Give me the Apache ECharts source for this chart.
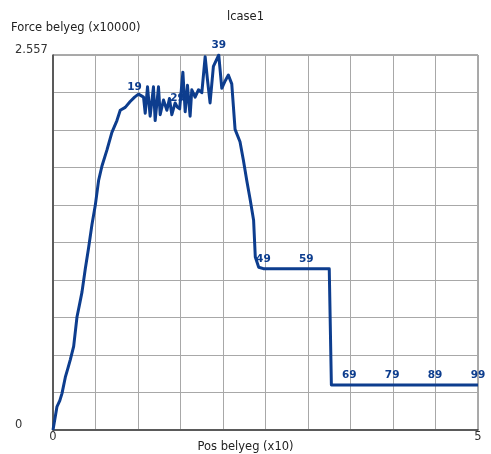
<!DOCTYPE html>
<html>
<head>
<meta charset="utf-8">
<script src="https://cdn.jsdelivr.net/npm/echarts@6/dist/echarts.min.js"></script>
<style>
html, body { margin: 0; padding: 0; background: #fff; }
#chart { width: 491px; height: 454px; }
</style>
</head>
<body>
<div id="chart"></div>
<script>
var chartTitle = 'lcase1';
var xName = 'Pos belyeg (x10)';
var yName = 'Force belyeg (x10000)';

// pos (x10) and force (x10000)
var posX = [
    0.000, 0.047, 0.080, 0.106, 0.145, 0.175, 0.204, 0.243, 0.282, 0.310,
    0.341, 0.380, 0.418, 0.458, 0.497, 0.536, 0.576, 0.635, 0.693, 0.752,
    0.791, 0.850, 0.908, 0.960, 1.006, 1.065, 1.085, 1.112, 1.143, 1.182,
    1.202, 1.241, 1.261, 1.300, 1.340, 1.370, 1.398, 1.437, 1.465, 1.490,
    1.528, 1.555, 1.582, 1.613, 1.633, 1.672, 1.711, 1.751, 1.790, 1.817,
    1.848, 1.887, 1.950, 1.986, 2.025, 2.063, 2.103, 2.142, 2.200, 2.240,
    2.280, 2.320, 2.360, 2.380, 2.420, 2.475, 2.980, 3.250, 3.275, 3.485,
    3.990, 4.495, 5.000
];
var force = [
    0.000, 0.160, 0.200, 0.250, 0.360, 0.420, 0.480, 0.570, 0.770, 0.850,
    0.940, 1.100, 1.240, 1.400, 1.530, 1.700, 1.800, 1.910, 2.030, 2.110,
    2.180, 2.200, 2.240, 2.270, 2.290, 2.270, 2.160, 2.340, 2.140, 2.340,
    2.110, 2.340, 2.150, 2.250, 2.180, 2.260, 2.150, 2.230, 2.200, 2.190,
    2.440, 2.170, 2.350, 2.140, 2.320, 2.270, 2.320, 2.300, 2.545, 2.390,
    2.230, 2.480, 2.557, 2.330, 2.380, 2.420, 2.360, 2.050, 1.965, 1.840,
    1.700, 1.570, 1.430, 1.180, 1.110, 1.100, 1.100, 1.100, 0.307, 0.307,
    0.307, 0.307, 0.307
];

// step numbers written next to the curve
var stepIdx = [23, 38, 52, 65, 66, 69, 70, 71, 72];
var stepText = ['19', '29', '39', '49', '59', '69', '79', '89', '99'];

var xTickVals = [0, 5];
var xTickLabels = ['0', '5'];
var yTickVals = [0, 2.557];
var yTickLabels = ['0', '2.557'];

function tickLabel(vals, labels, v) {
    for (var i = 0; i < vals.length; i++) {
        if (Math.abs(vals[i] - v) < 1e-6) return labels[i];
    }
    return '';
}

var lineColor = '#0d3d8e';
var font = 'DejaVu Sans';

var seriesData = posX.map(function (x, i) {
    var item = { value: [x, force[i]] };
    var k = stepIdx.indexOf(i);
    if (k >= 0) {
        item.label = { show: true, formatter: stepText[k] };
    }
    return item;
});

var chart = echarts.init(document.getElementById('chart'));
var option = {
    animation: false,
    backgroundColor: '#fff',
    title: [
        { text: chartTitle, left: 'center', top: 6,
          textStyle: { fontFamily: font, fontSize: 11.5, fontWeight: 'normal', color: '#222' } },
        { text: yName, left: 6, top: 17,
          textStyle: { fontFamily: font, fontSize: 11.5, fontWeight: 'normal', color: '#222' } },
        { text: xName, left: 'center', top: 436,
          textStyle: { fontFamily: font, fontSize: 11.5, fontWeight: 'normal', color: '#222' } }
    ],
    grid: {
        left: 53, right: 13, top: 55, bottom: 24,
        show: true, borderColor: '#555', borderWidth: 1
    },
    xAxis: {
        type: 'value',
        min: 0, max: 5, interval: 0.5,
        axisLine: { show: true, lineStyle: { color: '#404040', width: 1.5 } },
        axisTick: { show: false },
        splitLine: { show: true, lineStyle: { color: '#a8a8a8', width: 1 } },
        axisLabel: {
            margin: 1, fontFamily: font, fontSize: 11.5, color: '#333',
            showMinLabel: true, showMaxLabel: true,
            formatter: function (v) { return tickLabel(xTickVals, xTickLabels, v); }
        }
    },
    yAxis: {
        type: 'value',
        min: 0, max: 2.557, interval: 0.2557,
        axisLine: { show: true, lineStyle: { color: '#404040', width: 1.5 } },
        axisTick: { show: false },
        splitLine: { show: true, lineStyle: { color: '#a8a8a8', width: 1 } },
        axisLabel: {
            margin: 38, align: 'left', verticalAlign: 'bottom', lineHeight: 10,
            fontFamily: font, fontSize: 11.5, color: '#333',
            showMinLabel: true, showMaxLabel: true,
            formatter: function (v) { return tickLabel(yTickVals, yTickLabels, v); }
        }
    },
    series: [{
        type: 'line',
        data: seriesData,
        showSymbol: true,
        showAllSymbol: true,
        symbol: 'circle',
        symbolSize: 0,
        itemStyle: { color: lineColor },
        lineStyle: { color: lineColor, width: 3, join: 'round' },
        label: {
            show: false, position: 'top', distance: 4, offset: [4, 0],
            fontFamily: font, fontSize: 10.5, fontWeight: 'bold', color: lineColor
        },
        labelLayout: { hideOverlap: false }
    }]
};
chart.setOption(option);
</script>
</body>
</html>
